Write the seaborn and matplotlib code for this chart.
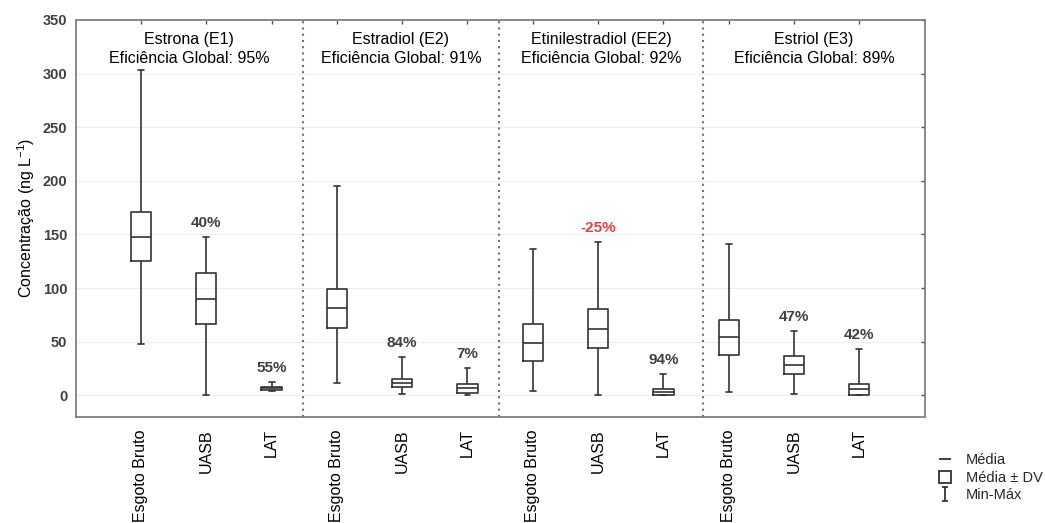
import numpy as np
import pandas as pd
import matplotlib
matplotlib.use("Agg")
import matplotlib.pyplot as plt
from matplotlib.lines import Line2D
from matplotlib.path import Path
import seaborn as sns

# chart values
STAGES = ["Esgoto Bruto", "UASB", "LAT"]
COMPOUNDS = ["Estrona (E1)", "Estradiol (E2)", "Etinilestradiol (EE2)", "Estriol (E3)"]
GLOBAL_EFF = ["95%", "91%", "92%", "89%"]

# one entry per box, in order E1 (EB, UASB, LAT), E2 ..., EE2 ..., E3 ...
MEAN = [148, 90, 6.5, 81, 11.5, 6.3, 49, 62, 3.0, 54, 28, 5.6]
SD = [23, 24, 1.5, 18.5, 4.0, 3.8, 17, 18, 2.8, 16.5, 8.5, 5.3]
MIN = [48, 0, 4.0, 11.5, 0.7, 0.5, 4.0, 0, 0, 3.0, 0.7, 0]
MAX = [303, 148, 12, 195, 36, 25.6, 136, 143, 20, 141, 60, 43]
REMOVAL = ["", "40%", "55%", "", "84%", "7%", "", "-25%", "94%", "", "47%", "42%"]

SEPARATORS = [2.48, 5.48, 8.61]

LINE = "#333333"

sns.set_theme(style="white")
plt.rcParams["font.family"] = ["Liberation Sans", "DejaVu Sans"]
plt.rcParams["mathtext.fontset"] = "custom"
plt.rcParams["mathtext.rm"] = "Liberation Sans"
plt.rcParams["mathtext.it"] = "Liberation Sans:italic"
plt.rcParams["mathtext.bf"] = "Liberation Sans:bold"


def build_frame():
    # five points per box -> quartiles land exactly on mean-SD, mean, mean+SD
    rows = []
    for i, (m, s, lo, hi) in enumerate(zip(MEAN, SD, MIN, MAX)):
        key = f"{COMPOUNDS[i // 3]}|{STAGES[i % 3]}"
        for v in [lo, m - s, m, m + s, hi]:
            rows.append({"grupo": key, "valor": v})
    return pd.DataFrame(rows)


def main():
    df = build_frame()
    order = list(dict.fromkeys(df["grupo"]))

    fig, ax = plt.subplots(figsize=(10.45, 5.23), dpi=100)
    fig.subplots_adjust(left=0.0724, right=0.8848, top=0.9618, bottom=0.2033)

    ax.yaxis.grid(True, color="#eeeeee", linewidth=0.8, zorder=0)
    ax.set_axisbelow(True)

    sns.boxplot(data=df, x="grupo", y="valor", order=order, whis=(0, 100),
                width=0.31, fill=False, color=LINE, linewidth=1.2,
                showfliers=False, capwidths=0.09, ax=ax)

    ax.set_xlim(-1, 12)
    ax.set_ylim(-20, 350)
    ax.set_yticks(range(0, 351, 50))
    ax.set_xticks(range(len(order)))
    ax.set_xticklabels(STAGES * len(COMPOUNDS), rotation=90, va="top",
                       fontsize=11.5, color="black")
    for lab in ax.get_yticklabels():
        lab.set_fontweight("bold")
        lab.set_fontsize(10.5)
        lab.set_color("#404040")
    ax.set_xlabel("")
    ax.set_ylabel("Concentração (ng L$^{\\mathrm{-1}}$)", fontsize=11.5, color="black")

    ax.tick_params(axis="both", direction="in", length=3, width=1,
                   color="#555555", top=True, right=True)
    ax.tick_params(axis="x", pad=9)
    ax.tick_params(axis="y", pad=6)
    for sp in ax.spines.values():
        sp.set_color("#808080")
        sp.set_linewidth(1.3)

    # dotted separators between compounds
    for xs in SEPARATORS:
        ax.axvline(xs, color="#707070", linestyle=(0, (1, 2)), linewidth=1.5)

    # compound titles
    bounds = [-1] + SEPARATORS + [12]
    for j, (name, eff) in enumerate(zip(COMPOUNDS, GLOBAL_EFF)):
        xc = (bounds[j] + bounds[j + 1]) / 2
        ax.text(xc, 323, f"{name}\nEficiência Global: {eff}", ha="center",
                va="center", fontsize=11.5, linespacing=1.35, color="black")

    # removal per stage, above the max whisker
    for i, txt in enumerate(REMOVAL):
        if not txt:
            continue
        col = "#e8413c" if txt.startswith("-") else "#404040"
        ax.annotate(txt, (i, MAX[i]), xytext=(0, 10), textcoords="offset points",
                    ha="center", va="center", fontsize=11, fontweight="bold",
                    color=col)

    # legend
    whisk = Path([(-0.5, 1), (0.5, 1), (0, 1), (0, -1), (-0.5, -1), (0.5, -1)],
                 [Path.MOVETO, Path.LINETO, Path.MOVETO, Path.LINETO,
                  Path.MOVETO, Path.LINETO])
    handles = [
        Line2D([], [], ls="none", marker="_", markersize=9, color=LINE, mew=1.3),
        Line2D([], [], ls="none", marker="s", markersize=9, mfc="white",
               mec=LINE, mew=1.3),
        Line2D([], [], ls="none", marker=whisk, markersize=10, color=LINE, mew=1.3),
    ]
    fig.legend(handles, ["Média", "Média ± DV", "Min-Máx"], loc="upper left",
               bbox_to_anchor=(932 / 1045, 1 - 453 / 523), frameon=False,
               fontsize=10.5, handlelength=1.8, handletextpad=0.5,
               labelspacing=0.25, borderpad=0, borderaxespad=0)

    fig.savefig("out.png", dpi=100)
    plt.close(fig)


if __name__ == "__main__":
    main()
